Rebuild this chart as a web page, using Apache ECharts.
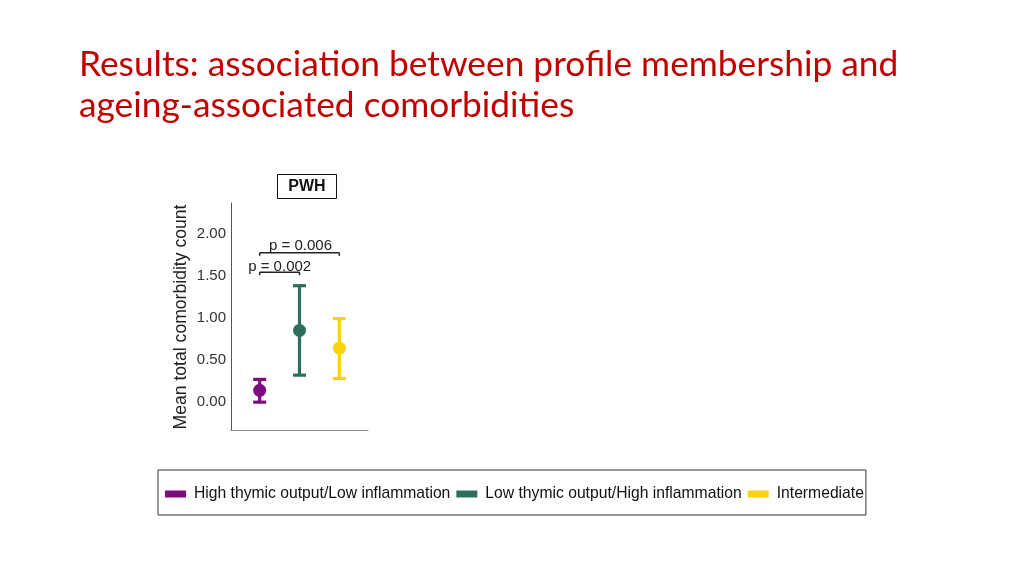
<!DOCTYPE html>
<html>
<head>
<meta charset="utf-8">
<script src="https://cdn.jsdelivr.net/npm/echarts@6/dist/echarts.min.js"></script>
<style>
html,body{margin:0;padding:0;background:#fff;}
#c{width:1024px;height:576px;}
</style>
</head>
<body>
<div id="c"></div>
<script>
// ---- data ----
var groups = ['High thymic output/Low inflammation', 'Low thymic output/High inflammation', 'Intermediate'];
var groupX = [1, 2, 3];
var means = [0.14, 0.85, 0.64];
var lowerCI = [0.00, 0.32, 0.28];
var upperCI = [0.27, 1.38, 0.99];
var yTicks = [0, 0.5, 1, 1.5, 2];
var brackets = [
  { from: 1, to: 3, y: 1.77, label: 'p = 0.006' },
  { from: 1, to: 2, y: 1.54, label: 'p = 0.002' }
];
var colors = ['#7e0a80', '#2e6e5f', '#fdd30f'];
var titleText = 'Results: association between profile membership and\nageing-associated comorbidities';
var panelLabel = 'PWH';
var yTitle = 'Mean total comorbidity count';

var chart = echarts.init(document.getElementById('c'));

var series = [];
groups.forEach(function (g, i) {
  series.push({
    name: g,
    type: 'custom',
    data: [[groupX[i], lowerCI[i], upperCI[i]]],
    renderItem: function (params, api) {
      var x = api.value(0);
      var lo = api.coord([x, api.value(1)]);
      var hi = api.coord([x, api.value(2)]);
      var hw = 6.5;
      var st = { stroke: colors[i], lineWidth: 3.2 };
      return {
        type: 'group',
        children: [
          { type: 'line', shape: { x1: lo[0], y1: lo[1], x2: hi[0], y2: hi[1] }, style: st },
          { type: 'line', shape: { x1: hi[0] - hw, y1: hi[1], x2: hi[0] + hw, y2: hi[1] }, style: st },
          { type: 'line', shape: { x1: lo[0] - hw, y1: lo[1], x2: lo[0] + hw, y2: lo[1] }, style: st }
        ]
      };
    },
    itemStyle: { color: colors[i] },
    z: 2
  });
  series.push({
    name: g,
    type: 'scatter',
    data: [[groupX[i], means[i]]],
    symbolSize: 13,
    itemStyle: { color: colors[i], opacity: 1 },
    z: 3
  });
});

series.push({
  type: 'custom',
  name: 'brackets',
  data: brackets.map(function (b) { return [b.from, b.to, b.y, b.label]; }),
  renderItem: function (params, api) {
    var a = api.coord([api.value(0), api.value(2)]);
    var b = api.coord([api.value(1), api.value(2)]);
    var st = { stroke: '#222', lineWidth: 1.5 };
    var idx = params.dataIndex;
    var label = brackets[idx].label;
    var tx = idx === 0 ? (a[0] + b[0]) / 2 + 1 : a[0] + 20;
    var ty = idx === 0 ? a[1] - 7 : a[1] - 5;
    return {
      type: 'group',
      children: [
        { type: 'line', shape: { x1: a[0], y1: a[1], x2: b[0], y2: b[1] }, style: st },
        { type: 'line', shape: { x1: a[0], y1: a[1], x2: a[0], y2: a[1] + 3 }, style: st },
        { type: 'line', shape: { x1: b[0], y1: b[1], x2: b[0], y2: b[1] + 3 }, style: st },
        { type: 'text', x: tx, y: ty, style: { text: label, fill: '#222', font: '15px "Liberation Sans", Arial, sans-serif', textAlign: 'center', textVerticalAlign: 'middle' } }
      ]
    };
  },
  silent: true,
  z: 4
});

chart.setOption({
  animation: false,
  backgroundColor: '#ffffff',
  title: {
    text: titleText,
    left: 74,
    top: 39,
    textStyle: {
      color: '#c00000',
      fontFamily: 'Lato, "Open Sans", sans-serif',
      fontWeight: 'normal',
      fontSize: 35.3,
      lineHeight: 41
    }
  },
  graphic: [
    {
      type: 'group',
      left: 277,
      top: 174,
      children: [
        { type: 'rect', shape: { x: 0, y: 0, width: 59, height: 24 }, style: { fill: '#fff', stroke: '#111', lineWidth: 1 } },
        { type: 'text', x: 29.5, y: 12, style: { text: panelLabel, fill: '#111', font: 'bold 16px "Liberation Sans", Arial, sans-serif', textAlign: 'center', textVerticalAlign: 'middle' } }
      ]
    },
    {
      type: 'text',
      rotation: Math.PI / 2,
      x: 181, y: 317,
      style: { text: yTitle, fill: '#222', font: '17.6px "Liberation Sans", Arial, sans-serif', textAlign: 'center', textVerticalAlign: 'middle' }
    }
  ],
  legend: {
    data: groups,
    left: 158,
    top: 470,
    orient: 'horizontal',
    padding: [16, 2, 13, 7],
    itemGap: 6,
    itemWidth: 21,
    itemHeight: 7,
    icon: 'rect',
    borderColor: '#333',
    borderWidth: 1,
    textStyle: { color: '#111', fontSize: 15.7, fontFamily: '"Liberation Sans", Arial, sans-serif', padding: [0, 0, 0, 3] },
    selectedMode: false
  },
  grid: { left: 231, right: 656, top: 203, bottom: 146, containLabel: false },
  xAxis: {
    type: 'value',
    min: 0.28,
    max: 3.72,
    axisLine: { show: true, onZero: false, lineStyle: { color: '#888', width: 1 } },
    axisTick: { show: false },
    axisLabel: { show: false },
    splitLine: { show: false }
  },
  yAxis: {
    type: 'value',
    min: -0.33,
    max: 2.36,
    axisLine: { show: true, onZero: false, lineStyle: { color: '#555', width: 1 } },
    axisTick: { show: false },
    splitLine: { show: false },
    axisLabel: {
      customValues: yTicks,
      formatter: function (v) { return v.toFixed(2); },
      color: '#333',
      fontSize: 15,
      margin: 5,
      fontFamily: '"Liberation Sans", Arial, sans-serif'
    }
  },
  series: series
});
</script>
</body>
</html>
